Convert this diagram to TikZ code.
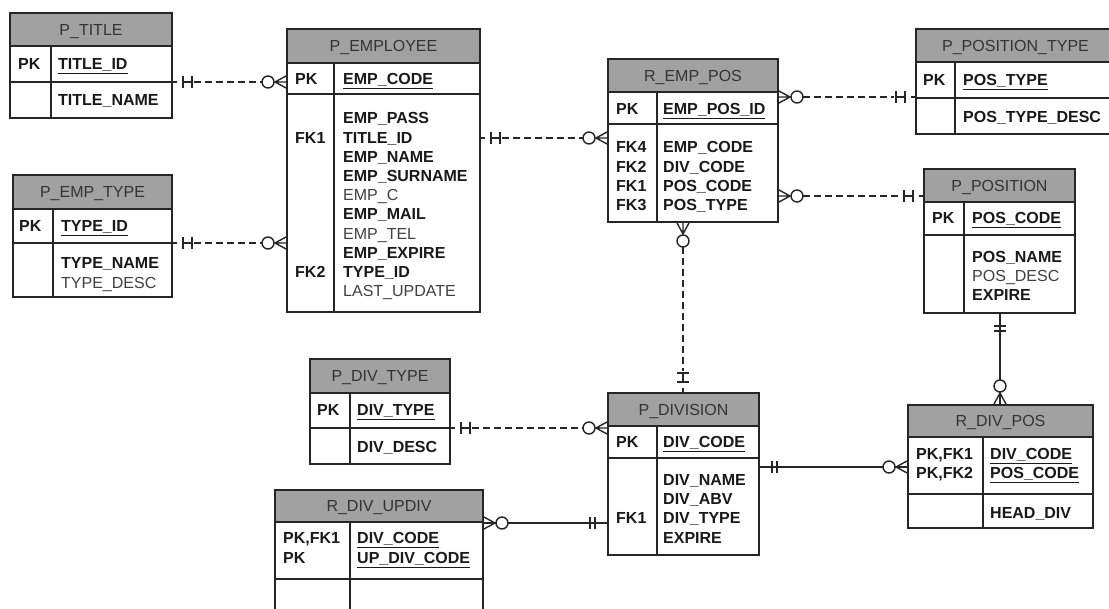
\documentclass[tikz,border=0pt]{standalone}
\usepackage{fontspec}
\setmainfont{Liberation Sans}
\begin{document}
\begin{tikzpicture}[x=1pt,y=-1pt,
  hdr/.style={fill=gray!74},
  ebox/.style={draw=black!85,line width=1.4pt,anchor=north west,inner sep=0pt,outer sep=0pt},
  bline/.style={draw=black!85,line width=1.4pt},
  hd/.style={font=\fontsize{16}{19}\selectfont,anchor=base,inner sep=0pt,text=black!80},
  fb/.style={font=\fontsize{16}{19}\selectfont\bfseries,anchor=base west,inner sep=0pt,text=black!90},
  fr/.style={font=\fontsize{16}{19}\selectfont,anchor=base west,inner sep=0pt,text=black!75},
  cline/.style={draw=black!85,line width=1.4pt},
  dline/.style={draw=black!85,line width=1.6pt,dash pattern=on 7pt off 4pt},
  zmany/.pic={\draw[cline] (0,-6.5)--(12,0)--(0,6.5) (0,0)--(12,0);
              \draw[cline,fill=white] (19,0) circle (6);},
  oneH/.pic={\draw[cline] (0,0)--(5,0) (11,-6)--(11,6) (20,-6)--(20,6) (11,0)--(20,0);},
  oneII/.pic={\draw[cline] (0,0)--(20,0) (13,-6)--(13,6) (18,-6)--(18,6);}
]
\useasboundingbox (0,0) rectangle (1109,609);
\clip (0,0) rectangle (1109,609);
\fill[white] (0,0) rectangle (1109,609);

\newcommand\erbox[9]{%
  \fill[hdr] (#2,#3) rectangle (#4,#6);
  \node[ebox,minimum width={(#4-#2)*1pt},minimum height={(#5-#3)*1pt}] (#1) at (#2,#3) {};
  \draw[bline] (#2,#6) -- (#4,#6) (#2,#7) -- (#4,#7) (#8,#6) -- (#8,#5);
  \node[hd] (#1h) at ({(#2+#4)/2},{(#3+#6)/2+5.8}) {#9};
}

% tables
\erbox{ttitle}{10}{13}{172}{118}{46}{82}{51}{P\_TITLE}
\erbox{tetype}{13}{175}{172}{297}{209}{243}{53}{P\_EMP\_TYPE}
\erbox{temp}{287}{29}{480}{312}{63}{94}{334}{P\_EMPLOYEE}
\erbox{trep}{608}{59}{778}{222}{92}{124}{657}{R\_EMP\_POS}
\erbox{tptype}{916}{29}{1115}{134}{62}{98}{955}{P\_POSITION\_TYPE}
\erbox{tpos}{924}{169}{1075}{313}{202}{235}{964}{P\_POSITION}
\erbox{tdpos}{908}{405}{1093}{528}{437}{494}{983}{R\_DIV\_POS}
\erbox{tdiv}{608}{393}{759}{555}{426}{458}{657}{P\_DIVISION}
\erbox{tdtype}{310}{359}{450}{464}{393}{428}{350}{P\_DIV\_TYPE}
\erbox{tupdiv}{275}{490}{483}{620}{522}{579}{350}{R\_DIV\_UPDIV}

% P_TITLE
\node[fb] (k1) at (18,64+5.8) {PK};
\node[fb] (f1) at (58,64+5.8) {\underline{TITLE\_ID}};
\node[fb] (f2) at (58,100+5.8) {TITLE\_NAME};
% P_EMP_TYPE
\node[fb] (k2) at (19,226+5.8) {PK};
\node[fb] (f3) at (61,226+5.8) {\underline{TYPE\_ID}};
\node[fb] (f4) at (61,263+5.8) {TYPE\_NAME};
\node[fr] (f5) at (61,283+5.8) {TYPE\_DESC};
% P_EMPLOYEE
\node[fb] (k3) at (295,79+5.8) {PK};
\node[fb] (k4) at (295,137.3+5.8) {FK1};
\node[fb] (k5) at (295,271.7+5.8) {FK2};
\node[fb] (f6) at (343,79+5.8) {\underline{EMP\_CODE}};
\node[fb] (f7) at (343,118+5.8) {EMP\_PASS};
\node[fb] (f8) at (343,137.3+5.8) {TITLE\_ID};
\node[fb] (f9) at (343,156.5+5.8) {EMP\_NAME};
\node[fb] (f10) at (343,175.7+5.8) {EMP\_SURNAME};
\node[fr] (f11) at (343,195+5.8) {EMP\_C};
\node[fb] (f12) at (343,214+5.8) {EMP\_MAIL};
\node[fr] (f13) at (343,233.3+5.8) {EMP\_TEL};
\node[fb] (f14) at (343,252.5+5.8) {EMP\_EXPIRE};
\node[fb] (f15) at (343,271.7+5.8) {TYPE\_ID};
\node[fr] (f16) at (343,291+5.8) {LAST\_UPDATE};
% R_EMP_POS
\node[fb] (k6) at (616,109+5.8) {PK};
\node[fb] (k7) at (616,147+5.8) {FK4};
\node[fb] (k8) at (616,166.3+5.8) {FK2};
\node[fb] (k9) at (616,185.5+5.8) {FK1};
\node[fb] (k10) at (616,204.7+5.8) {FK3};
\node[fb] (f17) at (663,109+5.8) {\underline{EMP\_POS\_ID}};
\node[fb] (f18) at (663,147+5.8) {EMP\_CODE};
\node[fb] (f19) at (663,166.3+5.8) {DIV\_CODE};
\node[fb] (f20) at (663,185.5+5.8) {POS\_CODE};
\node[fb] (f21) at (663,204.7+5.8) {POS\_TYPE};
% P_POSITION_TYPE
\node[fb] (k11) at (923,80+5.8) {PK};
\node[fb] (f22) at (963,80+5.8) {\underline{POS\_TYPE}};
\node[fb] (f23) at (963,117+5.8) {POS\_TYPE\_DESC};
% P_POSITION
\node[fb] (k12) at (932,218+5.8) {PK};
\node[fb] (f24) at (972,218+5.8) {\underline{POS\_CODE}};
\node[fb] (f25) at (972,257+5.8) {POS\_NAME};
\node[fr] (f26) at (972,276+5.8) {POS\_DESC};
\node[fb] (f27) at (972,295+5.8) {EXPIRE};
% R_DIV_POS
\node[fb] (k13) at (916,454+5.8) {PK,FK1};
\node[fb] (k14) at (916,473+5.8) {PK,FK2};
\node[fb] (f28) at (990,454+5.8) {\underline{DIV\_CODE}};
\node[fb] (f29) at (990,473+5.8) {\underline{POS\_CODE}};
\node[fb] (f30) at (990,513+5.8) {HEAD\_DIV};
% P_DIVISION
\node[fb] (k15) at (616,442+5.8) {PK};
\node[fb] (k16) at (616,518+5.8) {FK1};
\node[fb] (f31) at (663,442+5.8) {\underline{DIV\_CODE}};
\node[fb] (f32) at (663,480+5.8) {DIV\_NAME};
\node[fb] (f33) at (663,499+5.8) {DIV\_ABV};
\node[fb] (f34) at (663,518+5.8) {DIV\_TYPE};
\node[fb] (f35) at (663,538+5.8) {EXPIRE};
% P_DIV_TYPE
\node[fb] (k17) at (317,410+5.8) {PK};
\node[fb] (f36) at (357,410+5.8) {\underline{DIV\_TYPE}};
\node[fb] (f37) at (357,447+5.8) {DIV\_DESC};
% R_DIV_UPDIV
\node[fb] (k18) at (283,538+5.8) {PK,FK1};
\node[fb] (k19) at (283,558+5.8) {PK};
\node[fb] (f38) at (357,538+5.8) {\underline{DIV\_CODE}};
\node[fb] (f39) at (357,558+5.8) {\underline{UP\_DIV\_CODE}};

% connector end points
\coordinate (a1) at (ttitle.east |- 0,82);   \coordinate (a2) at (temp.west |- 0,82);
\coordinate (b1) at (tetype.east |- 0,243);  \coordinate (b2) at (temp.west |- 0,243);
\coordinate (c1) at (temp.east |- 0,138);    \coordinate (c2) at (trep.west |- 0,138);
\coordinate (d1) at (trep.east |- 0,97);     \coordinate (d2) at (tptype.west |- 0,97);
\coordinate (e1) at (trep.east |- 0,196);    \coordinate (e2) at (tpos.west |- 0,196);
\coordinate (g1) at (trep.south -| 683,0);   \coordinate (g2) at (tdiv.north -| 683,0);
\coordinate (h1) at (tpos.south -| 1000,0);  \coordinate (h2) at (tdpos.north -| 1000,0);
\coordinate (i1) at (tdtype.east |- 0,428);  \coordinate (i2) at (tdiv.west |- 0,428);
\coordinate (j1) at (tdiv.east |- 0,467);    \coordinate (j2) at (tdpos.west |- 0,467);
\coordinate (m1) at (tupdiv.east |- 0,523);  \coordinate (m2) at (tdiv.west |- 0,523);

% dashed connectors
\draw[dline,shorten <=22pt,shorten >=25pt] (a1) -- (a2);
\pic at (a1) {oneH}; \pic[rotate=180] at (a2) {zmany};
\draw[dline,shorten <=22pt,shorten >=25pt] (b1) -- (b2);
\pic at (b1) {oneH}; \pic[rotate=180] at (b2) {zmany};
\draw[dline,shorten <=22pt,shorten >=25pt] (c1) -- (c2);
\pic at (c1) {oneH}; \pic[rotate=180] at (c2) {zmany};
\draw[dline,shorten <=25pt,shorten >=22pt] (d1) -- (d2);
\pic at (d1) {zmany}; \pic[rotate=180] at (d2) {oneH};
\draw[dline,shorten <=25pt,shorten >=22pt] (e1) -- (e2);
\pic at (e1) {zmany}; \pic[rotate=180] at (e2) {oneH};
\draw[dline,shorten <=25pt,shorten >=22pt] (g1) -- (g2);
\pic[rotate=-90] at (g1) {zmany}; \pic[rotate=90] at (g2) {oneH};
\draw[dline,shorten <=22pt,shorten >=25pt] (i1) -- (i2);
\pic at (i1) {oneH}; \pic[rotate=180] at (i2) {zmany};

% solid connectors
\draw[cline] (h1) -- (h2);
\pic[rotate=-90] at (h1) {oneII}; \pic[rotate=90] at (h2) {zmany};
\draw[cline] (j1) -- (j2);
\pic at (j1) {oneII}; \pic[rotate=180] at (j2) {zmany};
\draw[cline] (m1) -- (m2);
\pic at (m1) {zmany}; \pic[rotate=180] at (m2) {oneII};
\end{tikzpicture}
\end{document}
